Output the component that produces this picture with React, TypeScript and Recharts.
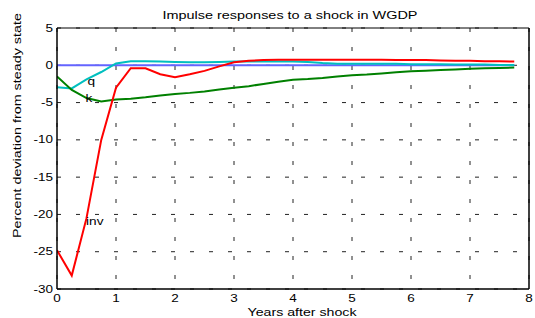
import { LineChart, Line, XAxis, YAxis, CartesianGrid, ReferenceLine, ReferenceDot, Customized } from "recharts";

const years = [0, 0.25, 0.5, 0.75, 1, 1.25, 1.5, 1.75, 2, 2.25, 2.5, 2.75, 3, 3.25, 3.5, 3.75, 4, 4.25, 4.5, 4.75, 5, 5.25, 5.5, 5.75, 6, 6.25, 6.5, 6.75, 7, 7.25, 7.5, 7.75];
const inv = [-24.8, -28.2, -20.5, -10, -3.0, -0.4, -0.4, -1.2, -1.6, -1.2, -0.75, -0.15, 0.4, 0.6, 0.7, 0.75, 0.75, 0.75, 0.75, 0.75, 0.75, 0.75, 0.75, 0.7, 0.7, 0.7, 0.65, 0.6, 0.6, 0.55, 0.55, 0.5];
const q = [-2.95, -3.1, -1.9, -0.9, 0.25, 0.55, 0.55, 0.5, 0.45, 0.4, 0.4, 0.45, 0.5, 0.5, 0.5, 0.5, 0.5, 0.45, 0.3, 0.2, 0.2, 0.2, 0.2, 0.2, 0.15, 0.15, 0.15, 0.1, 0.1, 0.1, 0.05, 0.05];
const k = [-1.5, -3.3, -4.4, -4.85, -4.6, -4.5, -4.3, -4.05, -3.85, -3.7, -3.5, -3.25, -3.0, -2.8, -2.5, -2.2, -1.95, -1.85, -1.7, -1.5, -1.35, -1.25, -1.1, -0.95, -0.8, -0.72, -0.62, -0.55, -0.45, -0.4, -0.35, -0.3];
const xTicks = [0, 1, 2, 3, 4, 5, 6, 7, 8];
const yTicks = [-30, -25, -20, -15, -10, -5, 0, 5];

const curveLabels = [
  { name: "q", x: 0.58, y: -2.15 },
  { name: "k", x: 0.54, y: -4.4 },
  { name: "inv", x: 0.64, y: -20.9 },
];

const data = years.map((t, i) => ({ t, zero: 0, inv: inv[i], q: q[i], k: k[i] }));

const FONT = "'Liberation Sans', Arial, Helvetica, sans-serif";

function XTick(props: any) {
  const { x, y, payload } = props;
  return (
    <g transform={`translate(${x},${y + 5})`}>
      <text x={0} y={0} textAnchor="middle" fontSize={10} fontFamily={FONT} fill="#000" transform="scale(1.35,1)">
        {payload.value}
      </text>
    </g>
  );
}

function YTick(props: any) {
  const { x, y, payload } = props;
  return (
    <g transform={`translate(${x + 4},${y + 3.5})`}>
      <text x={0} y={0} textAnchor="end" fontSize={10} fontFamily={FONT} fill="#000" transform="scale(1.35,1)">
        {payload.value}
      </text>
    </g>
  );
}

function CurveLabel(props: any) {
  const { cx, cy, text } = props;
  return (
    <g transform={`translate(${cx},${cy + 4})`}>
      <text x={0} y={0} textAnchor="middle" fontSize={10.5} fontFamily={FONT} fill="#000" transform="scale(1.3,1)">
        {text}
      </text>
    </g>
  );
}

function Titles() {
  return (
    <g fontFamily={FONT} fill="#000">
      <text x={290} y={19} textAnchor="middle" fontSize={11} textLength={255} lengthAdjust="spacingAndGlyphs">
        Impulse responses to a shock in WGDP
      </text>
      <text x={302} y={315.5} textAnchor="middle" fontSize={10.5} textLength={109} lengthAdjust="spacingAndGlyphs">
        Years after shock
      </text>
      <text
        x={0}
        y={0}
        textAnchor="middle"
        fontSize={10.5}
        textLength={225}
        lengthAdjust="spacingAndGlyphs"
        transform="translate(21,125.5) rotate(-90)"
      >
        Percent deviation from steady state
      </text>
    </g>
  );
}

export default function App() {
  return (
    <div style={{ position: "absolute", left: 0, top: 0, background: "#fff" }}>
      <LineChart width={535} height={318} data={data} margin={{ top: 28, right: 6, bottom: 9, left: 12 }}>
        <CartesianGrid stroke="#222" strokeDasharray="4 15" strokeWidth={1} />
        <XAxis
          dataKey="t"
          type="number"
          domain={[0, 8]}
          ticks={xTicks}
          height={20}
          tickLine={false}
          tick={<XTick />}
          axisLine={{ stroke: "#000", strokeWidth: 1.5 }}
          allowDataOverflow
        />
        <YAxis
          type="number"
          domain={[-30, 5]}
          ticks={yTicks}
          width={45}
          tickLine={false}
          tick={<YTick />}
          axisLine={{ stroke: "#000", strokeWidth: 1.5 }}
          allowDataOverflow
        />
        <ReferenceLine y={5} stroke="#000" strokeWidth={1} />
        <ReferenceLine x={8} stroke="#000" strokeWidth={1.5} />
        <Line dataKey="zero" stroke="#6464ff" strokeWidth={2} dot={false} isAnimationActive={false} />
        <Line dataKey="q" stroke="#00bfbf" strokeWidth={2} dot={false} isAnimationActive={false} />
        <Line dataKey="k" stroke="#008000" strokeWidth={2} dot={false} isAnimationActive={false} />
        <Line dataKey="inv" stroke="#ff0000" strokeWidth={2} dot={false} isAnimationActive={false} />
        {curveLabels.map((c) => (
          <ReferenceDot key={c.name} x={c.x} y={c.y} r={0} shape={(p: any) => <CurveLabel {...p} text={c.name} />} />
        ))}
        <Customized component={Titles} />
      </LineChart>
    </div>
  );
}
